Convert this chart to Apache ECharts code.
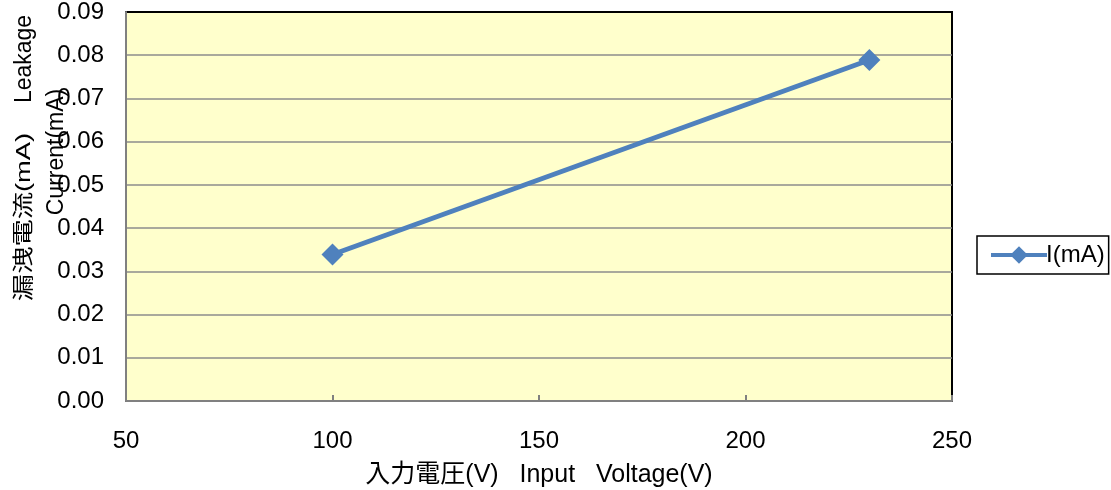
<!DOCTYPE html>
<html>
<head>
<meta charset="utf-8">
<script src="https://cdn.jsdelivr.net/npm/echarts@6/dist/echarts.min.js"></script>
<style>html,body{margin:0;padding:0;background:#fff}#c{width:1111px;height:490px}</style>
</head>
<body>
<div id="c"></div>
<script>
const seriesName = 'I(mA)';
const voltages = [100, 230];
const currents = [0.0339, 0.0789];
const xTitle = '入力電圧(V)   Input   Voltage(V)';
const yTitleJa = '漏洩電流(mA)';
const yTitleEn1 = 'Leakage';
const yTitleEn2 = 'Current(mA)';

const chart = echarts.init(document.getElementById('c'));
chart.setOption({
  animation: false,
  backgroundColor: '#ffffff',
  grid: {
    left: 126, top: 12, width: 826, height: 389,
    outerBoundsMode: 'none', containLabel: false,
    show: true, backgroundColor: '#FFFFCC', borderColor: '#000000', borderWidth: 2
  },
  legend: {
    left: 977, top: 236, width: 130,
    orient: 'vertical',
    borderColor: '#000', borderWidth: 1.5,
    padding: [7, 4, 7, 12],
    itemWidth: 56, itemHeight: 22, itemGap: 0,
    lineStyle: { width: 4 },
    textStyle: { fontFamily: 'Liberation Sans, sans-serif', fontSize: 24, color: '#000', padding: [0, 0, 0, -6] },
    data: [{ name: seriesName }]
  },
  xAxis: {
    type: 'value', min: 50, max: 250, interval: 50,
    name: xTitle, nameLocation: 'middle', nameGap: 62,
    nameTextStyle: { fontFamily: 'Liberation Sans, Noto Sans CJK JP, sans-serif', fontSize: 25, color: '#000' },
    axisLine: { show: true, lineStyle: { color: '#808080', width: 2 } },
    axisTick: { show: true, inside: true, length: 6, lineStyle: { color: '#808080', width: 2 } },
    axisLabel: { margin: 28, fontFamily: 'Liberation Sans, sans-serif', fontSize: 24, color: '#000' },
    splitLine: { show: false }
  },
  yAxis: {
    type: 'value', min: 0, max: 0.09, interval: 0.01,
    axisLine: { show: true, lineStyle: { color: '#808080', width: 2 } },
    axisTick: { show: false },
    axisLabel: { margin: 22, fontFamily: 'Liberation Sans, sans-serif', fontSize: 24, color: '#000',
      formatter: v => v.toFixed(2) },
    splitLine: { show: true, showMinLine: false, showMaxLine: false, lineStyle: { color: '#8c8c8c', width: 1.5 } }
  },
  graphic: [
    { type: 'text', x: 24, y: 217, rotation: Math.PI / 2, scaleX: 1.3, scaleY: 1,
      style: { text: yTitleJa, fontFamily: 'Liberation Sans, Noto Sans CJK JP, sans-serif', fontSize: 21, fill: '#000', align: 'center', verticalAlign: 'middle' } },
    { type: 'text', x: 25, y: 59, rotation: Math.PI / 2,
      style: { text: yTitleEn1, fontFamily: 'Liberation Sans, sans-serif', fontSize: 23, fill: '#000', align: 'center', verticalAlign: 'middle' } },
    { type: 'text', x: 57, y: 152, rotation: Math.PI / 2,
      style: { text: yTitleEn2, fontFamily: 'Liberation Sans, sans-serif', fontSize: 23, fill: '#000', align: 'center', verticalAlign: 'middle' } }
  ],
  series: [{
    name: seriesName, type: 'line',
    data: voltages.map((v, i) => [v, currents[i]]),
    symbol: 'diamond', symbolSize: 22,
    lineStyle: { color: '#4F81BD', width: 5 },
    itemStyle: { color: '#4F81BD' }
  }]
});
</script>
</body>
</html>
